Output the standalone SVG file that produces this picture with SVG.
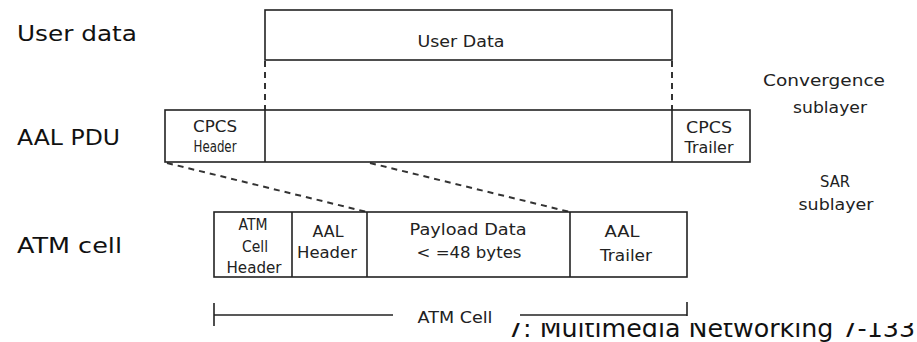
<svg xmlns="http://www.w3.org/2000/svg" width="917" height="342" viewBox="0 0 917 342">
<style>
.box{fill:#fff;stroke:#222;stroke-width:1.6}
.ln{stroke:#222;stroke-width:1.6;fill:none}
.dash{stroke:#333;stroke-width:2;stroke-dasharray:6 5;fill:none}
.t{font-family:"DejaVu Sans",sans-serif;font-size:15px;fill:#222;text-anchor:middle}
.lbl{font-family:"DejaVu Sans",sans-serif;font-size:22px;fill:#111}
.foot{font-family:"DejaVu Sans",sans-serif;font-size:24px;fill:#111}
</style>
<defs>
<clipPath id="fclip"><rect x="490" y="323" width="427" height="19"/></clipPath>
</defs>
<rect width="917" height="342" fill="#fff"/>
<g id="labels">
<text class="lbl" x="17" y="41" textLength="120" lengthAdjust="spacingAndGlyphs">User data</text>
<text class="lbl" x="17" y="145" textLength="103" lengthAdjust="spacingAndGlyphs">AAL PDU</text>
<text class="lbl" x="17" y="253" textLength="105" lengthAdjust="spacingAndGlyphs">ATM cell</text>
</g>
<g id="connectors">
<line class="dash" x1="265" y1="61" x2="265" y2="110"/>
<line class="dash" x1="672" y1="61" x2="672" y2="110"/>
<line class="dash" x1="167" y1="163" x2="367" y2="212"/>
<line class="dash" x1="370" y1="163" x2="570" y2="212"/>
</g>
<g id="user-data">
<rect class="box" x="265" y="10" width="407" height="50"/>
<text class="t" x="461" y="47" textLength="87" lengthAdjust="spacingAndGlyphs">User Data</text>
</g>
<g id="aal-pdu">
<rect class="box" x="165" y="110" width="585" height="52"/>
<line class="ln" x1="265" y1="110" x2="265" y2="162"/>
<line class="ln" x1="672" y1="110" x2="672" y2="162"/>
<text class="t" x="215" y="132" textLength="44" lengthAdjust="spacingAndGlyphs">CPCS</text>
<text class="t" x="215" y="152" textLength="43" lengthAdjust="spacingAndGlyphs">Header</text>
<text class="t" x="709" y="133" textLength="46" lengthAdjust="spacingAndGlyphs">CPCS</text>
<text class="t" x="709" y="153" textLength="49" lengthAdjust="spacingAndGlyphs">Trailer</text>
</g>
<g id="convergence">
<text class="t" x="824" y="86" textLength="122" lengthAdjust="spacingAndGlyphs">Convergence</text>
<text class="t" x="830" y="113" textLength="74" lengthAdjust="spacingAndGlyphs">sublayer</text>
</g>
<g id="sar">
<text class="t" x="835" y="187" textLength="30" lengthAdjust="spacingAndGlyphs">SAR</text>
<text class="t" x="836" y="210" textLength="75" lengthAdjust="spacingAndGlyphs">sublayer</text>
</g>
<g id="atm-cell">
<rect class="box" x="214" y="212" width="473" height="65"/>
<line class="ln" x1="292" y1="212" x2="292" y2="277"/>
<line class="ln" x1="367" y1="212" x2="367" y2="277"/>
<line class="ln" x1="570" y1="212" x2="570" y2="277"/>
<text class="t" x="253" y="230" textLength="29" lengthAdjust="spacingAndGlyphs">ATM</text>
<text class="t" x="255" y="252" textLength="26" lengthAdjust="spacingAndGlyphs">Cell</text>
<text class="t" x="254" y="273" textLength="55" lengthAdjust="spacingAndGlyphs">Header</text>
<text class="t" x="328" y="237" textLength="31" lengthAdjust="spacingAndGlyphs">AAL</text>
<text class="t" x="327" y="258" textLength="60" lengthAdjust="spacingAndGlyphs">Header</text>
<text class="t" x="468" y="235" textLength="117" lengthAdjust="spacingAndGlyphs">Payload Data</text>
<text class="t" x="469" y="258" textLength="105" lengthAdjust="spacingAndGlyphs">&lt; =48 bytes</text>
<text class="t" x="622" y="237" textLength="35" lengthAdjust="spacingAndGlyphs">AAL</text>
<text class="t" x="626" y="261" textLength="52" lengthAdjust="spacingAndGlyphs">Trailer</text>
</g>
<g id="atm-cell-span">
<line class="ln" x1="214" y1="303" x2="214" y2="326"/>
<line class="ln" x1="214" y1="315" x2="393" y2="315"/>
<line class="ln" x1="520" y1="315" x2="687" y2="315"/>
<line class="ln" x1="687" y1="302" x2="687" y2="316"/>
<text class="t" x="455" y="323" textLength="75" lengthAdjust="spacingAndGlyphs">ATM Cell</text>
</g>
<g id="footer">
<text class="foot" x="507" y="337" textLength="408" lengthAdjust="spacingAndGlyphs" clip-path="url(#fclip)">7: Multimedia Networking 7-133</text>
</g>
</svg>
